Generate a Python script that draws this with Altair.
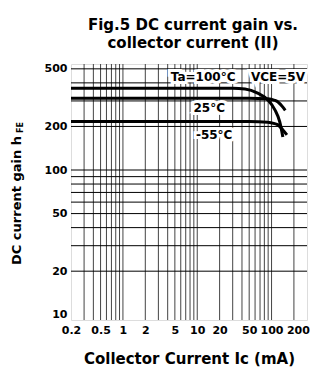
import altair as alt
import pandas as pd

# ---- data ----
ic_100 = [0.2, 10, 30, 44, 65, 89, 111, 129, 142]
hfe_100 = [367, 367, 367, 363, 340, 305, 260, 215, 169]

ic_25 = [0.2, 10, 50, 89, 110, 122, 142, 153]
hfe_25 = [313, 313, 313, 311, 303, 295, 272, 258]

ic_m55 = [0.2, 10, 50, 89, 110, 122, 142, 161]
hfe_m55 = [216, 216, 216, 214, 209, 205, 189, 175]

x_ticks = [0.2, 0.5, 1, 2, 5, 10, 20, 50, 100, 200]
y_ticks = [10, 20, 50, 100, 200, 500]

x_grid = [0.3, 0.4, 0.5, 0.6, 0.7, 0.8, 0.9,
          1, 2, 3, 4, 5, 6, 7, 8, 9,
          10, 20, 30, 40, 50, 60, 70, 80, 90,
          100, 200]
y_grid = [20, 30, 40, 50, 60, 70, 80, 90, 100, 200, 300, 400, 500]

label_text = ["Ta=100°C", "VCE=5V", "25°C", "-55°C"]
label_ic = [12, 122, 14.5, 16.9]
label_hfe = [440, 440, 268, 175]

FONT = "DejaVu Sans"

curves = pd.concat([
    pd.DataFrame({"ic": ic_100, "hfe": hfe_100, "t": "100"}),
    pd.DataFrame({"ic": ic_25, "hfe": hfe_25, "t": "25"}),
    pd.DataFrame({"ic": ic_m55, "hfe": hfe_m55, "t": "-55"}),
])

xs = alt.Scale(type="log", domain=[0.2, 300], nice=False)
ys = alt.Scale(type="log", domain=[9.2, 540], nice=False)

x_axis = alt.Axis(values=x_ticks,
                  labelExpr="datum.value < 1 ? format(datum.value, '.1f') : format(datum.value, 'd')",
                  grid=False, ticks=False, domain=False,
                  labelFont=FONT, labelFontWeight="bold", labelFontSize=11, labelColor="#000",
                  labelPadding=4, labelOverlap=False, labelFlush=False, labelAlign="center",
                  labelOffset={"condition": {"test": "datum.value >= 200", "value": 4}, "value": 0},
                  title="Collector Current Ic (mA)", titleFont=FONT, titleFontWeight="bold",
                  titleFontSize=15, titleColor="#000", titlePadding=16)
y_axis = alt.Axis(values=y_ticks, format="d", grid=False, ticks=False, domain=False,
                  labelFont=FONT, labelFontWeight="bold", labelFontSize=11, labelColor="#000",
                  labelPadding=4, labelOverlap=False, labelFlush=False, title=None)

X = alt.X("ic:Q", scale=xs, axis=x_axis)
Y = alt.Y("hfe:Q", scale=ys, axis=y_axis)

vgrid = alt.Chart(pd.DataFrame({"ic": x_grid})).mark_rule(
    color="#444", strokeWidth=1).encode(x=X)
hgrid = alt.Chart(pd.DataFrame({"hfe": y_grid})).mark_rule(
    color="#000", strokeWidth=1).encode(y=Y)

lines = alt.Chart(curves).mark_line(
    color="#000", strokeWidth=3, interpolate="monotone").encode(
    x=X, y=Y, detail="t:N")

label_df = pd.DataFrame({"ic": label_ic, "hfe": label_hfe, "txt": label_text})
label_halo = alt.Chart(label_df).mark_text(
    font=FONT, fontWeight="bold", fontSize=12, color="white",
    stroke="white", strokeWidth=6).encode(x=X, y=Y, text="txt:N")
labels = alt.Chart(label_df).mark_text(
    font=FONT, fontWeight="bold", fontSize=12, color="#000").encode(
    x=X, y=Y, text="txt:N")

ytitle = alt.Chart(pd.DataFrame({"txt": ["DC current gain h"]})).mark_text(
    font=FONT, fontWeight="bold", fontSize=13, color="#000", angle=270,
    align="left", baseline="middle").encode(
    x=alt.value(-54), y=alt.value(201), text="txt:N")
ysub = alt.Chart(pd.DataFrame({"txt": ["FE"]})).mark_text(
    font=FONT, fontWeight="bold", fontSize=8, color="#000", angle=270,
    align="left", baseline="middle").encode(
    x=alt.value(-50), y=alt.value(69), text="txt:N")

chart = alt.layer(vgrid, hgrid, lines, label_halo, labels, ytitle, ysub).properties(
    width=236, height=256,
    title=alt.TitleParams(["Fig.5 DC current gain vs.", "collector current (II)"],
                          font=FONT, fontWeight="bold", fontSize=15, color="#000",
                          anchor="middle", offset=12, lineHeight=18, dx=4),
    autosize=alt.AutoSizeParams(type="none"),
    padding={"left": 63, "top": 56, "right": 5, "bottom": 56},
).configure_view(stroke="#000", strokeWidth=1.5).configure(background="white")

chart.save("out.html", embed_options={"renderer": "svg", "actions": False})
